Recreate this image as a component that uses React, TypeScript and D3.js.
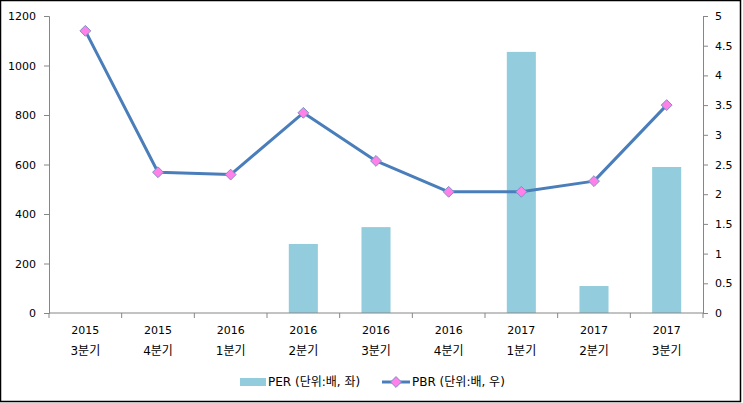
import React, { useEffect, useRef } from 'react';
import * as d3 from 'd3';

const years = ['2015', '2015', '2016', '2016', '2016', '2016', '2017', '2017', '2017'];
const quarters = ['3분기', '4분기', '1분기', '2분기', '3분기', '4분기', '1분기', '2분기', '3분기'];
const perValues: (number | null)[] = [null, null, null, 279, 347, null, 1055, 109, 590];
const pbrValues = [4.75, 2.37, 2.33, 3.37, 2.56, 2.04, 2.04, 2.22, 3.5];
const leftTicks = [0, 200, 400, 600, 800, 1000, 1200];
const rightTicks = [0, 0.5, 1, 1.5, 2, 2.5, 3, 3.5, 4, 4.5, 5];

const W = 743;
const H = 403;
const font = '"DejaVu Sans", "Noto Sans CJK KR", sans-serif';

const App: React.FC = () => {
    const svgRef = useRef<SVGSVGElement | null>(null);

    useEffect(() => {
        const svg = d3.select(svgRef.current);
        svg.selectAll('*').remove();

        const left = 49, right = 703, top = 16, bottom = 313;
        const idx = d3.range(years.length);

        const x = d3.scaleBand<number>().domain(idx).range([left, right]).paddingInner(0).paddingOuter(0);
        const yL = d3.scaleLinear().domain([0, 1200]).range([bottom, top]);
        const yR = d3.scaleLinear().domain([0, 5]).range([bottom, top]);

        svg.append('rect')
            .attr('x', 0.5).attr('y', 0.5)
            .attr('width', 740).attr('height', 401)
            .attr('fill', '#fff').attr('stroke', '#000').attr('stroke-width', 1.5);

        // bars
        const barW = x.bandwidth() * 0.4;
        svg.append('g').selectAll('rect')
            .data(idx.filter(i => perValues[i] !== null))
            .enter().append('rect')
            .attr('x', i => (x(i) as number) + (x.bandwidth() - barW) / 2)
            .attr('y', i => yL(perValues[i] as number))
            .attr('width', barW)
            .attr('height', i => bottom - yL(perValues[i] as number))
            .attr('fill', '#93CDDD');

        const axisColor = '#868686';

        // left axis
        const gl = svg.append('g').attr('transform', `translate(${left},0)`)
            .call(d3.axisLeft(yL).tickValues(leftTicks).tickSize(5).tickPadding(8).tickFormat(d3.format('d')));
        gl.select('.domain').attr('stroke', axisColor);
        gl.selectAll('line').attr('stroke', axisColor);
        gl.selectAll('text').attr('font-family', font).attr('font-size', 11).attr('fill', '#000');

        // right axis
        const gr = svg.append('g').attr('transform', `translate(${right},0)`)
            .call(d3.axisRight(yR).tickValues(rightTicks).tickSize(5).tickPadding(7).tickFormat(d => String(d)));
        gr.select('.domain').attr('stroke', axisColor);
        gr.selectAll('line').attr('stroke', axisColor);
        gr.selectAll('text').attr('font-family', font).attr('font-size', 11).attr('fill', '#000');

        // bottom axis
        svg.append('line')
            .attr('x1', left).attr('x2', right).attr('y1', bottom).attr('y2', bottom)
            .attr('stroke', axisColor);
        svg.append('g').selectAll('line')
            .data(d3.range(years.length + 1))
            .enter().append('line')
            .attr('x1', i => left + i * x.step()).attr('x2', i => left + i * x.step())
            .attr('y1', bottom).attr('y2', bottom + 5)
            .attr('stroke', axisColor);

        const labels = svg.append('g').attr('font-family', font).attr('text-anchor', 'middle');
        labels.selectAll('text.yr')
            .data(idx).enter().append('text')
            .attr('class', 'yr')
            .attr('font-size', 11)
            .attr('x', i => (x(i) as number) + x.bandwidth() / 2)
            .attr('y', 334)
            .text(i => years[i]);
        labels.selectAll('text.q')
            .data(idx).enter().append('text')
            .attr('class', 'q')
            .attr('font-size', 12)
            .attr('x', i => (x(i) as number) + x.bandwidth() / 2)
            .attr('y', 355)
            .text(i => quarters[i]);

        // PBR line
        const line = d3.line<number>()
            .x(i => (x(i) as number) + x.bandwidth() / 2)
            .y(i => yR(pbrValues[i]));
        svg.append('path')
            .datum(idx)
            .attr('d', line)
            .attr('fill', 'none')
            .attr('stroke', '#4A7EBB')
            .attr('stroke-width', 3)
            .attr('stroke-linejoin', 'round');

        const diamond = d3.symbol().type(d3.symbolDiamond2).size(75);
        svg.append('g').selectAll('path')
            .data(idx).enter().append('path')
            .attr('d', diamond)
            .attr('transform', i => `translate(${(x(i) as number) + x.bandwidth() / 2},${yR(pbrValues[i])})`)
            .attr('fill', '#FF80E8')
            .attr('stroke', '#7E8FC8')
            .attr('stroke-width', 1);

        // legend
        const lg = svg.append('g').attr('font-family', font).attr('font-size', 12);
        lg.append('rect').attr('x', 240).attr('y', 378).attr('width', 26).attr('height', 8).attr('fill', '#93CDDD');
        lg.append('text').attr('x', 268).attr('y', 386).text('PER (단위:배, 좌)');
        lg.append('line').attr('x1', 382).attr('x2', 410).attr('y1', 382).attr('y2', 382)
            .attr('stroke', '#4A7EBB').attr('stroke-width', 3);
        lg.append('path').attr('d', diamond).attr('transform', 'translate(396,382)')
            .attr('fill', '#FF80E8').attr('stroke', '#7E8FC8');
        lg.append('text').attr('x', 412).attr('y', 386).text('PBR (단위:배, 우)');
    }, []);

    return <svg ref={svgRef} width={W} height={H} style={{ position: 'absolute', left: 0, top: 0 }} />;
};

export default App;
